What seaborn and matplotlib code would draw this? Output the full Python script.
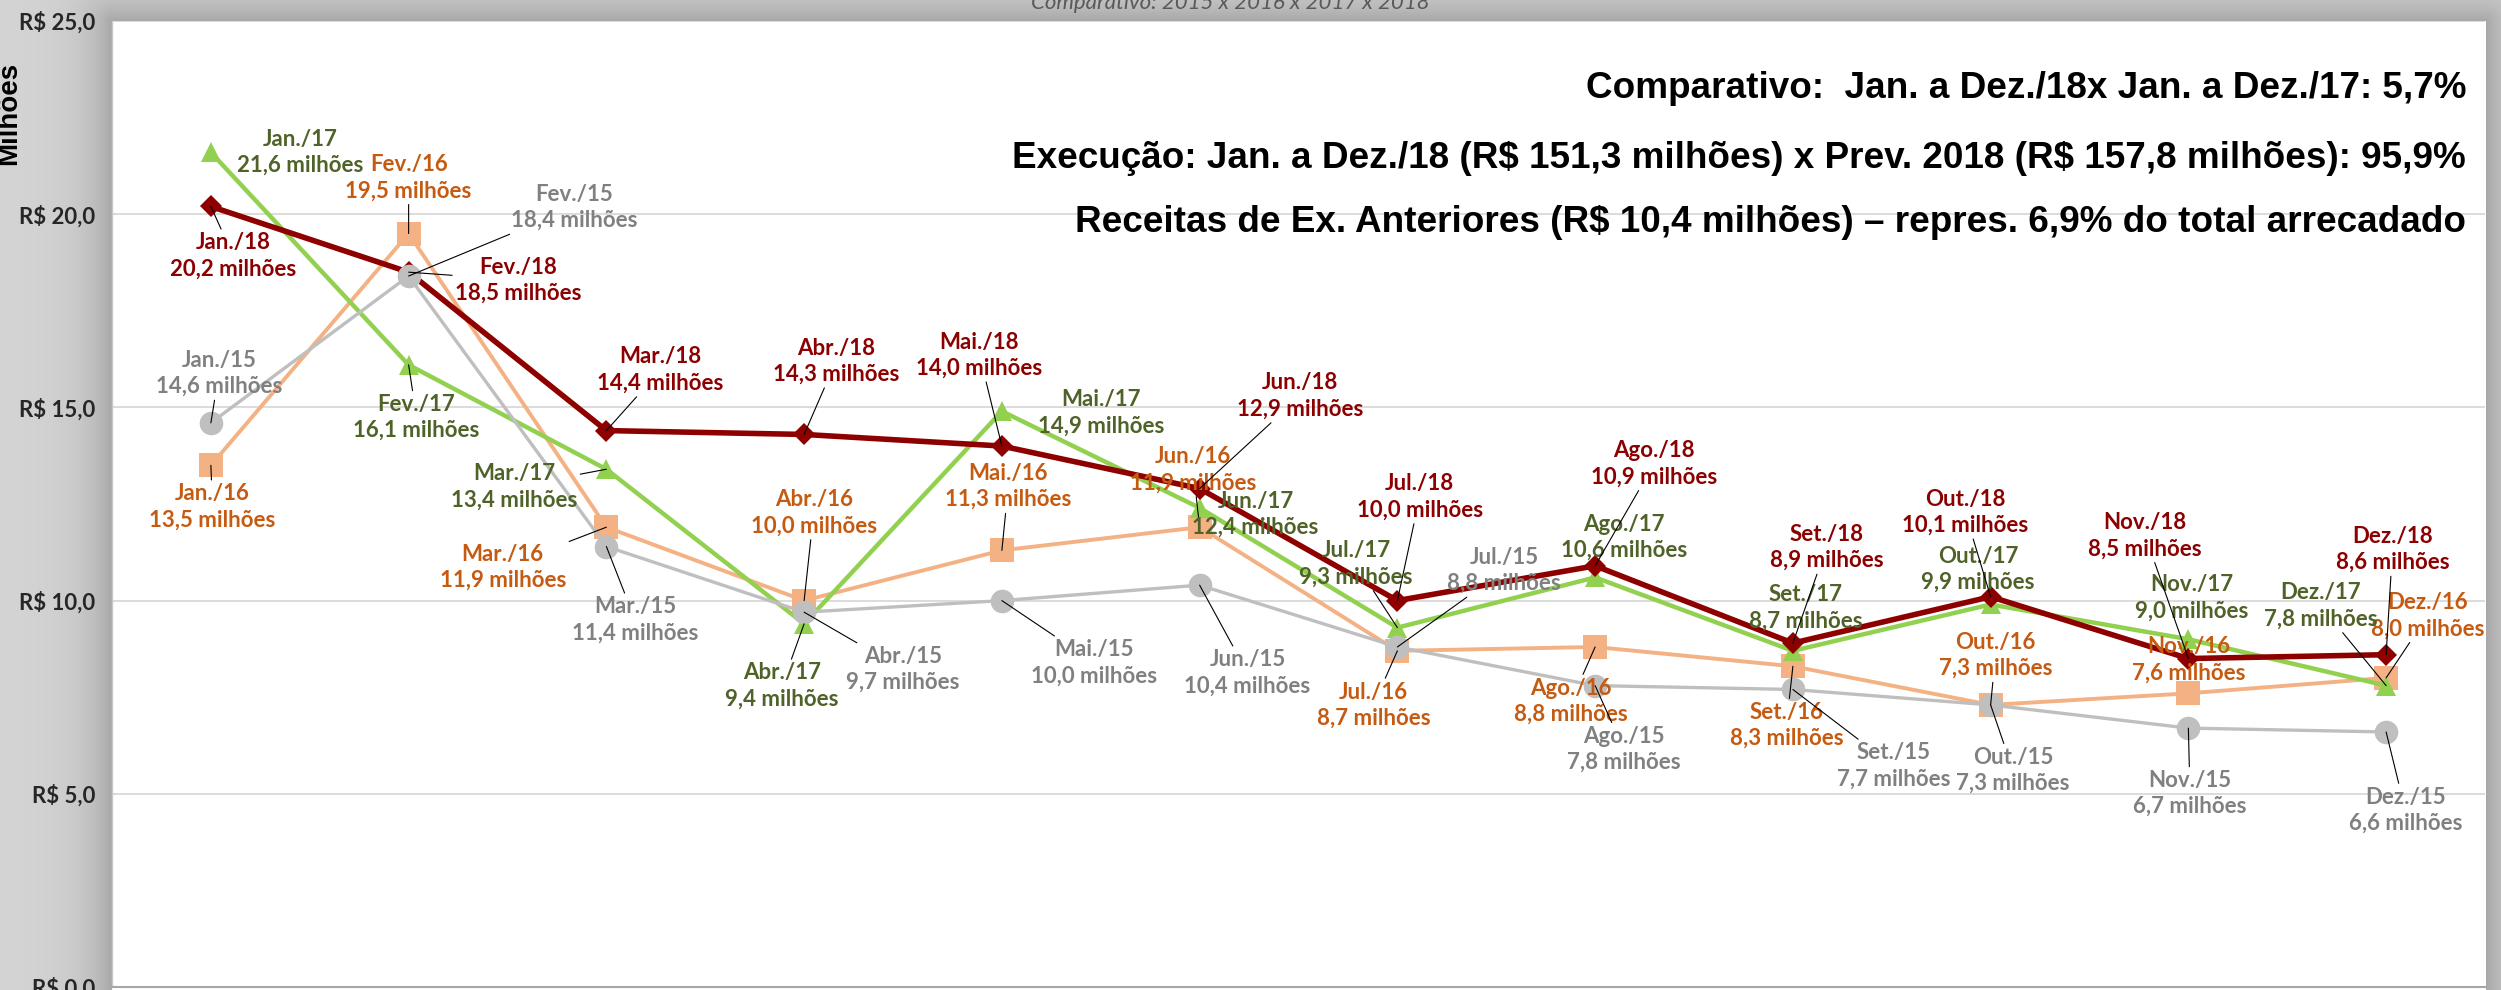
"""
Arrecadação mensal - comparativo 2015 x 2016 x 2017 x 2018.
"""

import numpy as np
import matplotlib

matplotlib.use("Agg")
import matplotlib.pyplot as plt
import seaborn as sns
from matplotlib import font_manager

months = ["Jan.", "Fev.", "Mar.", "Abr.", "Mai.", "Jun.",
          "Jul.", "Ago.", "Set.", "Out.", "Nov.", "Dez."]

vals_2015 = [14.6, 18.4, 11.4, 9.7, 10.0, 10.4, 8.8, 7.8, 7.7, 7.3, 6.7, 6.6]
vals_2016 = [13.5, 19.5, 11.9, 10.0, 11.3, 11.9, 8.7, 8.8, 8.3, 7.3, 7.6, 8.0]
vals_2017 = [21.6, 16.1, 13.4, 9.4, 14.9, 12.4, 9.3, 10.6, 8.7, 9.9, 9.0, 7.8]
vals_2018 = [20.2, 18.5, 14.4, 14.3, 14.0, 12.9, 10.0, 10.9, 8.9, 10.1, 8.5, 8.6]

y_ticks = [0, 5, 10, 15, 20, 25]

header_lines = [
    "Comparativo:  Jan. a Dez./18x Jan. a Dez./17: 5,7%",
    "Execução: Jan. a Dez./18 (R$ 151,3 milhões) x Prev. 2018 (R$ 157,8 milhões): 95,9%",
    "Receitas de Ex. Anteriores (R$ 10,4 milhões) – repres. 6,9% do total arrecadado",
]
title = "Comparativo: 2015 x 2016 x 2017 x 2018"

# label offsets from each point, in preview pixels (dx right, dy up)
offs_2018 = [(14, -31), (69, -5), (34, 38), (20, 46), (-14, 57), (63, 58),
             (14, 65), (37, 64), (21, 60), (-16, 53), (-27, 77), (4, 66)]
offs_2017 = [(56, 0), (5, -33), (-58, -11), (-14, -39), (62, -1), (35, -4),
             (-26, 40), (18, 25), (8, 27), (-8, 22), (2, 26), (-41, 50)]
offs_2016 = [(1, -26), (0, 35), (-65, -25), (6, 55), (4, 40), (-4, 36),
             (-15, -34), (-15, -34), (-4, -37), (3, 31), (0, 21), (26, 39)]
offs_2015 = [(5, 31), (104, 43), (18, -46), (62, -36), (58, -39), (30, -55),
             (67, 48), (18, -40), (63, -48), (14, -41), (1, -41), (12, -49)]

no_leader = {("17", 0), ("17", 4), ("17", 5), ("17", 7), ("17", 8),
             ("17", 9), ("17", 10), ("16", 10)}

PX = 1.595 * 0.72  # preview pixel -> points


def has_font(name):
    try:
        font_manager.findfont(font_manager.FontProperties(family=name),
                              fallback_to_default=False)
        return True
    except ValueError:
        return False


sns.set_theme(style="white")
label_font = "Lato" if has_font("Lato") else "DejaVu Sans"
if has_font("Liberation Sans Narrow"):
    head_font, head_size = "Liberation Sans Narrow", 30
else:
    head_font, head_size = "Liberation Sans", 26.6
plt.rcParams["font.family"] = [label_font, "DejaVu Sans"]

W, H = 2501, 990
fig = plt.figure(figsize=(W / 100, H / 100), dpi=100)

# grey frame around the chart area
L, R, T = 112, 2485, 21
yy, xx = np.mgrid[0:H, 0:W]
dx = np.maximum(np.maximum(L - xx, xx - R), 0)
dy = np.maximum(T - yy, 0)
d = np.hypot(dx, dy)
g = 0.83 - 0.18 * np.exp(-d / 26.0)
g[(dx == 0) & (dy == 0)] = 1.0
bg = fig.add_axes([0, 0, 1, 1], zorder=-10)
bg.imshow(g, cmap="gray", vmin=0, vmax=1, aspect="auto", extent=[0, 1, 0, 1])
bg.axis("off")

ax = fig.add_axes([L / W, 3 / H, (R - L) / W, (H - T - 3) / H])
ax.set_facecolor("white")

x = np.arange(len(months))
series = [
    ("16", vals_2016, offs_2016, "#F4B183", "#C55A11", "s", 17, 2.8, 2),
    ("17", vals_2017, offs_2017, "#92D050", "#4F6228", "^", 15, 3.2, 3),
    ("18", vals_2018, offs_2018, "#8E0000", "#8B0000", "D", 11, 4.0, 4),
    ("15", vals_2015, offs_2015, "#BFBFBF", "#808080", "o", 17, 2.4, 5),
]

for yr, vals, offs, lc, tc, mk, ms, lw, z in series:
    sns.lineplot(x=x, y=vals, ax=ax, color=lc, marker=mk, markersize=ms,
                 linewidth=lw, markeredgewidth=0, zorder=z)
    for i, v in enumerate(vals):
        txt = f"{months[i]}/{yr}\n" + f"{v:.1f}".replace(".", ",") + " milhões"
        arrow = None
        if (yr, i) not in no_leader:
            arrow = dict(arrowstyle="-", color="black", lw=0.8,
                         shrinkA=0, shrinkB=0)
        ax.annotate(txt, xy=(i, v),
                    xytext=(offs[i][0] * PX, offs[i][1] * PX),
                    textcoords="offset points", ha="center", va="center",
                    fontsize=16, fontweight="bold", color=tc,
                    linespacing=1.3, arrowprops=arrow, zorder=10)

ax.set_xlim(-0.5, len(months) - 0.5)
ax.set_ylim(0, 25)
ax.set_xticks([])
ax.set_yticks(y_ticks)
ax.set_yticklabels([f"R$ {t:.1f}".replace(".", ",") for t in y_ticks],
                   fontsize=16, fontweight="bold", color="#262626")
ax.tick_params(axis="y", length=0, pad=12)
ax.yaxis.grid(True, color="#D9D9D9", linewidth=1.3)
ax.set_axisbelow(True)
for side in ["top", "right"]:
    ax.spines[side].set_visible(False)
ax.spines["left"].set_color("#C8C8C8")
ax.spines["left"].set_linewidth(1.0)
ax.spines["bottom"].set_color("#A6A6A6")
ax.spines["bottom"].set_linewidth(1.5)
ax.set_xlabel("")
ax.set_ylabel("")

fig.text(9 / W, 1 - 113 / H, "Milhões", rotation=90, ha="center",
         va="center", fontsize=20, fontweight="bold", color="black",
         family=["Liberation Sans", "DejaVu Sans"])

fig.text(1230 / W, 1 - 9 / H, title, ha="center", va="baseline",
         fontsize=16, style="italic", color="#595959")

for line, yc in zip(header_lines, [88, 158, 223]):
    fig.text(2466 / W, 1 - yc / H, line, ha="right", va="center",
             fontsize=head_size, fontweight="bold", color="black",
             family=[head_font, "DejaVu Sans"], parse_math=False)

fig.savefig("out.png", dpi=100)
